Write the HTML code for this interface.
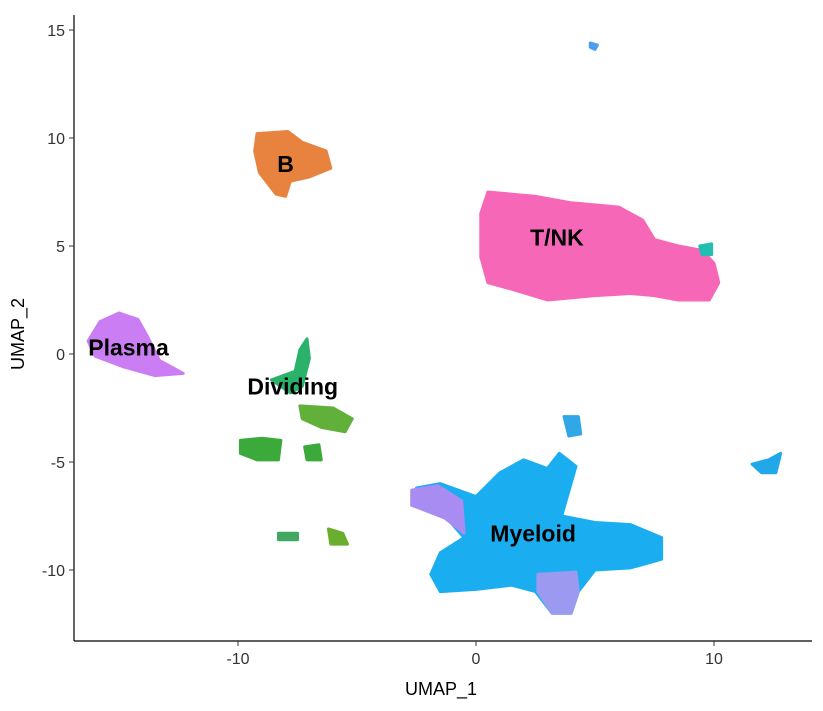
<!DOCTYPE html>
<html><head><meta charset="utf-8"><style>
html,body{margin:0;padding:0;background:#fff}
svg{display:block;font-family:"Liberation Sans",sans-serif}
</style></head><body>
<svg id="chart" width="823" height="711"></svg>
<script>
// ---- data (UMAP coordinates) ----
const xTicks=[-10,0,10];
const yTicks=[-10,-5,0,5,10,15];
const bCluster=[[-9.2,10.2],[-7.9,10.3],[-7.3,9.8],[-6.3,9.4],[-6.1,8.6],[-7.0,8.2],[-7.8,8.0],[-8.0,7.3],[-8.4,7.4],[-9.1,8.4],[-9.3,9.4]];
const tnkCluster=[[0.5,7.5],[2.5,7.3],[4,7.0],[6,6.8],[7,6.2],[7.5,5.3],[8.5,5.0],[9.5,4.8],[10,4.2],[10.2,3.3],[9.8,2.5],[8.5,2.5],[7.5,2.7],[6.5,2.8],[5,2.7],[3,2.5],[1.5,3.0],[0.5,3.3],[0.2,4.5],[0.2,6.5]];
const myeloidCluster=[[-2.5,-6.2],[-1.5,-6.0],[0,-6.6],[1,-5.5],[2,-4.9],[3,-5.3],[3.5,-4.6],[4.2,-5.2],[3.6,-7.5],[5,-7.8],[6.5,-7.9],[7.8,-8.5],[7.8,-9.5],[6.5,-9.9],[5,-10],[4.3,-11],[4,-12],[3.2,-12],[2.5,-11],[1.5,-10.7],[0,-10.9],[-1.5,-11],[-1.9,-10.2],[-1.5,-9.2],[-0.5,-8.5],[-1.3,-7.5],[-2.7,-7]];
const myeloidPurpleLeft=[[-2.7,-6.3],[-1.6,-6.1],[-0.6,-6.8],[-0.5,-8.3],[-1.3,-7.6],[-2.7,-7]];
const myeloidPurpleBottom=[[2.6,-10.2],[4.2,-10.1],[4.3,-11],[4,-12],[3.2,-12],[2.6,-11]];
const plasmaCluster=[[-15,1.9],[-14.2,1.6],[-13.8,0.8],[-13.3,-0.3],[-12.3,-0.9],[-13.5,-1.0],[-14.8,-0.6],[-16,-0.1],[-16.3,0.6],[-15.8,1.5]];
const divTop=[[-7.6,-0.8],[-7.4,0.2],[-7.1,0.7],[-7.0,-0.2],[-7.3,-1.5],[-7.8,-1.8],[-8.6,-1.2]];
const divLeft=[[-9.9,-4.0],[-9.0,-3.9],[-8.2,-4.0],[-8.3,-4.9],[-9.2,-4.9],[-9.9,-4.6]];
const divRight=[[-7.4,-2.4],[-6.0,-2.5],[-5.2,-3.0],[-5.5,-3.6],[-6.5,-3.4],[-7.3,-3.0]];
const divMid=[[-7.2,-4.3],[-6.6,-4.2],[-6.5,-4.9],[-7.1,-4.9]];
const divBot1=[[-8.3,-8.3],[-7.5,-8.3],[-7.5,-8.6],[-8.3,-8.6]];
const divBot2=[[-6.2,-8.1],[-5.6,-8.3],[-5.4,-8.8],[-6.1,-8.8]];
const islandTop=[[4.8,14.4],[5.1,14.3],[5.0,14.1],[4.8,14.2]];
const islandRight=[[11.6,-5.1],[12.3,-4.9],[12.8,-4.6],[12.6,-5.5],[12.0,-5.5]];
const islandSmall=[[3.7,-2.9],[4.3,-2.9],[4.4,-3.7],[3.9,-3.8]];
const islandTeal=[[9.4,5.0],[9.9,5.1],[9.9,4.6],[9.5,4.6]];
const clusterLabels=[["B",-8.0,8.8],["T/NK",3.4,5.4],["Plasma",-14.6,0.3],["Dividing",-7.7,-1.5],["Myeloid",2.4,-8.3]];

// ---- axes ----
const X=v=>476+v*23.8, Y=v=>354-v*21.6;
const svg=document.getElementById('chart'), NS='http://www.w3.org/2000/svg';
function mk(t,a,p){const e=document.createElementNS(NS,t);for(const k in a)e.setAttribute(k,a[k]);(p||svg).appendChild(e);return e;}
function poly(pts,color,name){
  const e=mk('polygon',{points:pts.map(p=>X(p[0])+','+Y(p[1])).join(' '),fill:color,stroke:color,'stroke-width':3,'stroke-linejoin':'round'});
  
  
}
poly(bCluster,'#E8823F','cluster-b');
poly(tnkCluster,'#F767B8','cluster-tnk');
poly(myeloidCluster,'#1AAEF0','cluster-myeloid');
poly(myeloidPurpleLeft,'#A98CF2','cluster-myeloid-purple-left');
poly(myeloidPurpleBottom,'#9C9AF0','cluster-myeloid-purple-bottom');
poly(plasmaCluster,'#CB7EF4','cluster-plasma');
poly(divTop,'#2BB26A','cluster-dividing-top');
poly(divLeft,'#3BAA3A','cluster-dividing-left');
poly(divRight,'#60B03A','cluster-dividing-right');
poly(divMid,'#3BAA3A','cluster-dividing-mid');
poly(divBot1,'#40A860','cluster-dividing-bottom-1');
poly(divBot2,'#6AAE30','cluster-dividing-bottom-2');
poly(islandTop,'#4C9EF0','island-top');
poly(islandRight,'#20A8E8','island-right');
poly(islandSmall,'#30A8E8','island-small');
poly(islandTeal,'#20BFB0','island-teal');

const ax=mk('line',{x1:74,y1:15,x2:74,y2:641,stroke:'#000','stroke-width':1.2});

const bx=mk('line',{x1:74,y1:641,x2:812,y2:641,stroke:'#000','stroke-width':1.2});

xTicks.forEach(v=>{
  mk('line',{x1:X(v),y1:641,x2:X(v),y2:646,stroke:'#333'});
  const t=mk('text',{x:X(v),y:664,'text-anchor':'middle','font-size':16,fill:'#333'});t.textContent=v;
  
});
yTicks.forEach(v=>{
  mk('line',{x1:69,y1:Y(v),x2:74,y2:Y(v),stroke:'#333'});
  const t=mk('text',{x:65,y:Y(v)+6,'text-anchor':'end','font-size':16,fill:'#333'});t.textContent=v;
  
});
const xt=mk('text',{x:441,y:695,'text-anchor':'middle','font-size':18,fill:'#000'});xt.textContent='UMAP_1';

const yt=mk('text',{x:24,y:334,'text-anchor':'middle','font-size':18,fill:'#000',transform:'rotate(-90 24 334)'});yt.textContent='UMAP_2';

clusterLabels.forEach(l=>{
  const t=mk('text',{x:X(l[1]),y:Y(l[2])+8,'text-anchor':'middle','font-size':23,'font-weight':'bold',fill:'#000'});t.textContent=l[0];
  
});
</script>
</body></html>
